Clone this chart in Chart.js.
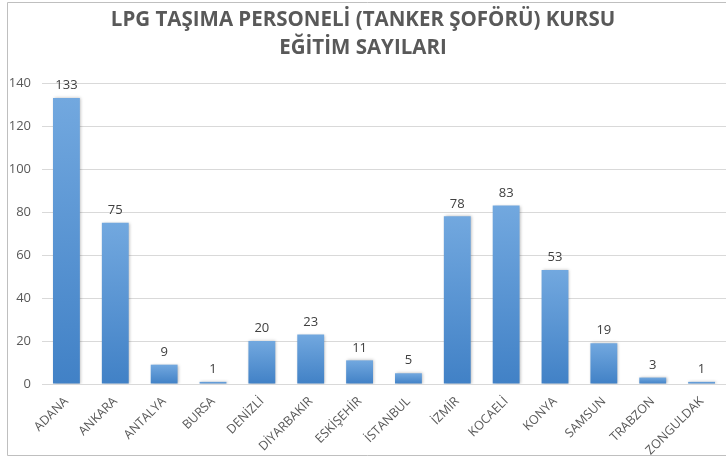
<!DOCTYPE html>
<html lang="tr">
<head>
<meta charset="utf-8">
<title>LPG Taşıma Personeli Kursu</title>
<script src="https://cdn.jsdelivr.net/npm/chart.js@4"></script>
<style>
    html, body { margin: 0; padding: 0; background: #fff; }
    #wrap { width: 726px; height: 459px; }
</style>
</head>
<body>
<div id="wrap"><canvas id="myChart" width="726" height="459"></canvas></div>
<script>
// 자료
const cities = ['ADANA', 'ANKARA', 'ANTALYA', 'BURSA', 'DENİZLİ', 'DİYARBAKIR', 'ESKİŞEHİR',
    'İSTANBUL', 'İZMİR', 'KOCAELİ', 'KONYA', 'SAMSUN', 'TRABZON', 'ZONGULDAK'];
const trainingCounts = [133, 75, 9, 1, 20, 23, 11, 5, 78, 83, 53, 19, 3, 1];
const titleLines = ['LPG TAŞIMA PERSONELİ (TANKER ŞOFÖRÜ) KURSU', 'EĞİTİM SAYILARI'];

const FONT = "'Open Sans', 'DejaVu Sans', sans-serif";
const GRAY = '#595959';

// 배경과 바깥 테두리
const frame = {
    id: 'frame',
    beforeDraw(chart) {
        const c = chart.ctx;
        c.save();
        c.fillStyle = '#fff';
        c.fillRect(0, 0, chart.width, chart.height);
        c.strokeStyle = '#bfbfbf';
        c.lineWidth = 1;
        c.beginPath();
        c.moveTo(chart.width + 2, 2.5);
        c.lineTo(7.5, 2.5);
        c.lineTo(7.5, 455.5);
        c.lineTo(chart.width + 2, 455.5);
        c.stroke();
        c.restore();
    }
};

// 막대 그림자
const barShadow = {
    id: 'barShadow',
    beforeDatasetsDraw(chart) {
        const c = chart.ctx;
        c.save();
        c.shadowColor = 'rgba(0, 0, 0, 0.28)';
        c.shadowBlur = 3;
        c.shadowOffsetX = 1;
        c.shadowOffsetY = 0;
    },
    afterDatasetsDraw(chart) {
        chart.ctx.restore();
    }
};

// 막대 위 값 표시
const valueLabels = {
    id: 'valueLabels',
    afterDatasetsDraw(chart) {
        const c = chart.ctx;
        const meta = chart.getDatasetMeta(0);
        c.save();
        c.fillStyle = '#404040';
        c.font = '13px ' + FONT;
        c.textAlign = 'center';
        c.textBaseline = 'bottom';
        meta.data.forEach((bar, i) => {
            c.fillText(trainingCounts[i], bar.x, bar.y - 6);
        });
        c.restore();
    }
};

// 막대마다 위에서 아래로 그라데이션
function barGradient(context) {
    const chart = context.chart;
    const y = chart.scales.y;
    if (!y || context.raw === undefined) return '#5b9bd5';
    const top = y.getPixelForValue(context.raw);
    const base = y.getPixelForValue(0);
    if (!isFinite(top) || !isFinite(base)) return '#5b9bd5';
    const g = chart.ctx.createLinearGradient(0, top, 0, Math.max(base, top + 1));
    g.addColorStop(0, '#72a8df');
    g.addColorStop(1, '#4181c6');
    return g;
}

const ctx = document.getElementById('myChart').getContext('2d');
new Chart(ctx, {
    type: 'bar',
    data: {
        labels: cities,
        datasets: [{
            label: 'Eğitim Sayısı',
            data: trainingCounts,
            backgroundColor: barGradient,
            borderWidth: 0,
            categoryPercentage: 1,
            barPercentage: 0.55
        }]
    },
    options: {
        responsive: false,
        animation: false,
        layout: { padding: { left: 0, right: 0, top: 0, bottom: 0 } },
        plugins: {
            legend: { display: false },
            tooltip: { enabled: false },
            title: {
                display: true,
                text: titleLines,
                color: GRAY,
                font: { family: FONT, size: 20.5, weight: 'bold', lineHeight: '28px' },
                padding: { top: 6, bottom: 21 }
            }
        },
        scales: {
            x: {
                grid: { display: false, drawTicks: false },
                border: { display: true, color: '#d9d9d9', width: 1 },
                ticks: {
                    color: GRAY,
                    font: { family: FONT, size: 12.5 },
                    minRotation: 45,
                    maxRotation: 45,
                    autoSkip: false,
                    padding: 10
                },
                afterFit(scale) { scale.height = 75; }
            },
            y: {
                min: 0,
                max: 140,
                grid: { color: '#d9d9d9', drawTicks: false },
                border: { display: false },
                ticks: {
                    stepSize: 20,
                    color: GRAY,
                    font: { family: FONT, size: 13 },
                    padding: 11
                },
                afterFit(scale) { scale.width = 42; }
            }
        }
    },
    plugins: [frame, barShadow, valueLabels]
});
</script>
</body>
</html>
